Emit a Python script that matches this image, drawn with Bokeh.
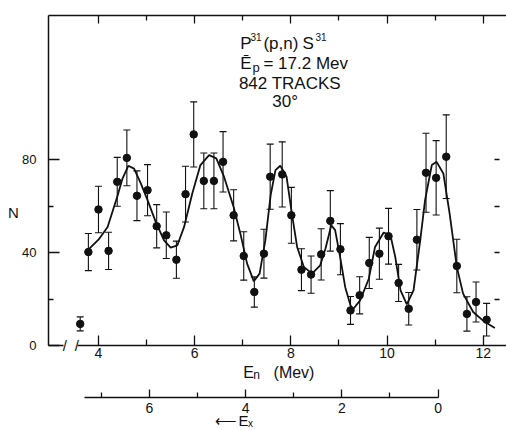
from bokeh.plotting import figure
from bokeh.models import (Range1d, LinearAxis, FixedTicker, Whisker, TeeHead,
                          ColumnDataSource, Label)
from bokeh.embed import file_html
from bokeh.resources import INLINE

# ---- data ----
en = [3.62, 3.79, 4.00, 4.21, 4.39, 4.59, 4.80, 5.02, 5.21, 5.41, 5.62, 5.81,
      5.98, 6.19, 6.40, 6.59, 6.81, 7.02, 7.24, 7.44, 7.57, 7.82, 8.01, 8.22,
      8.42, 8.63, 8.82, 9.03, 9.24, 9.43, 9.63, 9.84, 10.03, 10.24, 10.45,
      10.62, 10.81, 11.02, 11.23, 11.45, 11.66, 11.85, 12.07]
counts = [9.3, 40.2, 58.5, 40.7, 70.4, 80.7, 64.4, 66.8, 51.3, 47.4, 36.9, 65.1,
          90.8, 70.8, 70.8, 79.0, 56.0, 38.5, 23.0, 39.5, 72.6, 73.6, 56.0, 32.6,
          30.5, 39.2, 53.6, 41.4, 15.1, 21.6, 35.5, 39.5, 47.0, 26.9, 15.8,
          45.5, 74.3, 72.1, 81.2, 34.2, 13.6, 18.7, 11.1]
err = [3.0, 8.0, 10.0, 8.0, 10.5, 12.0, 10.7, 11.0, 9.3, 10.0, 8.0, 12.0,
       14.0, 12.0, 12.0, 13.0, 11.0, 10.4, 6.5, 10.5, 14.0, 14.0, 12.0, 9.0,
       8.0, 11.0, 13.0, 11.0, 6.0, 8.0, 11.0, 11.0, 12.0, 8.0, 7.0,
       13.0, 17.0, 16.0, 18.0, 11.5, 7.4, 8.6, 7.0]

curve_x = [3.81, 4.00, 4.19, 4.39, 4.50, 4.62, 4.74, 4.88, 5.02, 5.19, 5.36,
           5.50, 5.64, 5.78, 5.95, 6.12, 6.30, 6.45, 6.61, 6.81, 6.95, 7.09,
           7.23, 7.35, 7.47, 7.58, 7.68, 7.78, 7.91, 8.02, 8.13, 8.27, 8.44,
           8.61, 8.72, 8.84, 8.92, 9.03, 9.13, 9.24, 9.30, 9.44, 9.62, 9.75,
           9.93, 10.07, 10.17, 10.28, 10.41, 10.55, 10.69, 10.79, 10.93, 11.03,
           11.17, 11.30, 11.45, 11.58, 11.79, 11.99, 12.24]
curve_y = [41.7, 45.5, 51.0, 64.0, 71.8, 77.3, 76.1, 69.7, 62.5, 53.2, 45.3,
           42.1, 43.1, 51.0, 65.4, 77.6, 81.9, 80.5, 72.6, 59.6, 48.1, 35.2,
           27.6, 30.9, 45.3, 64.7, 75.4, 77.3, 72.6, 56.8, 42.4, 33.8, 30.9,
           34.5, 41.7, 51.7, 49.6, 37.4, 25.1, 17.2, 15.8, 19.4, 28.7, 42.4,
           48.6, 47.4, 38.1, 23.7, 17.7, 23.7, 45.3, 62.5, 77.6, 79.0,
           74.0, 56.8, 33.8, 22.3, 14.4, 10.8, 7.5]

en_major = [4, 6, 8, 10, 12]
en_minor = [5, 7, 9, 11]
n_major = [0, 40, 80]
n_minor = [20, 60]
n_right = [20, 40, 60, 80]
ex_major = [0, 2, 4, 6]
ex_minor = [1, 3, 5, 7]
ex_offset = 11.06          # E_x = ex_offset - E_n
ex_bounds = (0, 7.35)

FONT = "Liberation Sans"
INK = "#111111"

# visible window in data units
x0, x1 = 1.963, 12.483
y0, y1 = -36.56, 148.39
x_axis_start = 2.96      # where the N axis stands
break_left, break_right = 3.27, 3.56
n_top = 141.9            # top border
x_right_ticks = 12.337
ex_axis_at = -22.4

p = figure(width=506, height=430, x_range=Range1d(x0, x1), y_range=Range1d(y0, y1),
           output_backend="svg", toolbar_location=None,
           x_axis_location=None, y_axis_location=None,
           min_border_left=0, min_border_right=0, min_border_top=0,
           min_border_bottom=0)
p.outline_line_color = None
p.grid.visible = False
p.background_fill_color = "white"
p.border_fill_color = "white"

def style(ax, tick_in, minor_in, labels=True, size="14px"):
    ax.axis_line_color = INK
    ax.axis_line_width = 1.5
    ax.major_tick_line_color = INK
    ax.minor_tick_line_color = INK
    ax.major_tick_line_width = 1.3
    ax.minor_tick_line_width = 1.3
    ax.major_tick_in = tick_in
    ax.major_tick_out = 0
    ax.minor_tick_in = minor_in
    ax.minor_tick_out = 0
    ax.major_label_text_font = FONT
    ax.major_label_text_font_size = size
    ax.major_label_text_color = INK if labels else None

# bottom E_n axis (after the break)
xb = LinearAxis(ticker=FixedTicker(ticks=en_major, minor_ticks=en_minor),
                fixed_location=0, bounds=(break_right, x1))
style(xb, 10, 6)
xb.major_label_standoff = 3
p.add_layout(xb, "below")

# short stub of the E_n axis before the break
xs = LinearAxis(ticker=FixedTicker(ticks=[], minor_ticks=[]),
                fixed_location=0, bounds=(x_axis_start, break_left))
style(xs, 0, 0, labels=False)
p.add_layout(xs, "below")

# E_x axis
p.extra_x_ranges = {"ex": Range1d(ex_offset - x0, ex_offset - x1)}
xe = LinearAxis(x_range_name="ex", ticker=FixedTicker(ticks=ex_major, minor_ticks=ex_minor),
                bounds=ex_bounds, fixed_location=ex_axis_at)
style(xe, 8, 5)
xe.major_label_standoff = 5
p.add_layout(xe, "below")

# top border with ticks
xt = LinearAxis(ticker=FixedTicker(ticks=en_major, minor_ticks=en_minor),
                fixed_location=n_top, bounds=(x_axis_start, x1))
style(xt, 8, 5, labels=False)
p.add_layout(xt, "above")

# left N axis
yl = LinearAxis(ticker=FixedTicker(ticks=n_major, minor_ticks=n_minor),
                fixed_location=x_axis_start, bounds=(0, n_top))
style(yl, 11, 5, size="13px")
yl.major_label_standoff = 12
p.add_layout(yl, "left")

# right ticks
yr = LinearAxis(ticker=FixedTicker(ticks=n_right, minor_ticks=[]),
                fixed_location=x_right_ticks)
style(yr, 5, 0, labels=False)
yr.axis_line_color = None
p.add_layout(yr, "right")

# data
src = ColumnDataSource(dict(x=en, y=counts,
                            lo=[c - e for c, e in zip(counts, err)],
                            hi=[c + e for c, e in zip(counts, err)]))
p.add_layout(Whisker(source=src, base="x", lower="lo", upper="hi",
                     line_color=INK, line_width=1.1,
                     lower_head=TeeHead(size=7, line_color=INK, line_width=1.1),
                     upper_head=TeeHead(size=7, line_color=INK, line_width=1.1)))
p.line(curve_x, curve_y, line_color=INK, line_width=1.8)
p.scatter(en, counts, size=7.5, fill_color=INK, line_color=INK)

def lab(x, y, t, size="17px", align="center"):
    p.add_layout(Label(x=x, y=y, text=t, text_font=FONT, text_font_size=size,
                       text_color=INK, text_align=align, text_baseline="middle"))

# title block
lab(6.95, 129.7, "P", align="left")
lab(7.16, 132.9, "31", size="10px", align="left")
lab(7.43, 129.7, "(p,n)", align="left")
lab(8.24, 129.7, "S", align="left")
lab(8.51, 132.9, "31", size="10px", align="left")
lab(6.95, 121.3, "\u0112", align="left")
lab(7.20, 119.6, "p", size="13px", align="left")
lab(7.43, 121.3, "= 17.2 Mev", align="left")
lab(7.98, 112.7, "842 TRACKS")
lab(7.88, 104.9, "30\u00b0")

# axis titles
lab(2.23, 57.2, "N", size="15px")
lab(7.01, -11.4, "E", size="16px", align="left")
lab(7.22, -12.9, "n", size="12px", align="left")
lab(7.64, -11.4, "(Mev)", size="16px", align="left")
lab(6.66, -32.4, "\u27f5", size="15px")
lab(6.91, -32.4, "E", size="15px", align="left")
lab(7.11, -33.6, "x", size="10px", align="left")

# axis break marks
lab(break_left + 0.03, 0, "/", size="15px")
lab(break_right - 0.01, 0, "/", size="15px")

open("out.html", "w").write(file_html(p, INLINE))
